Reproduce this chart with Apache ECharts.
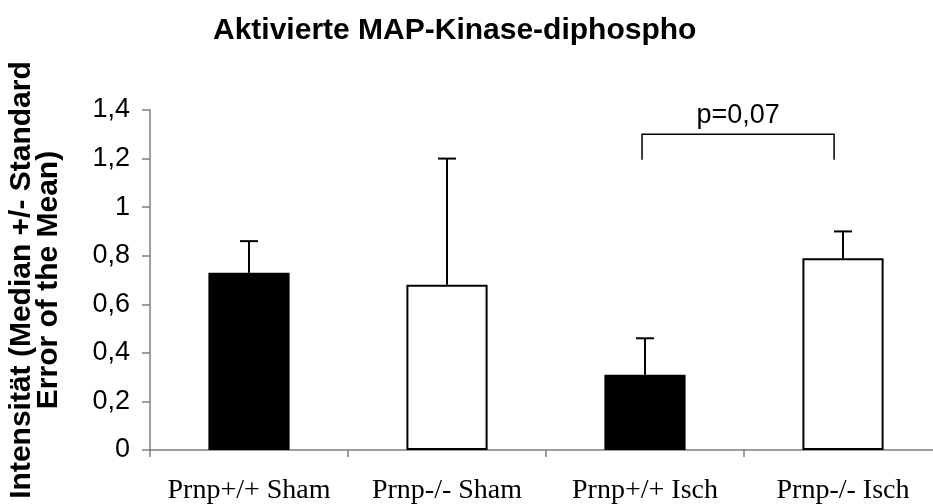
<!DOCTYPE html>
<html>
<head>
<meta charset="utf-8">
<script src="https://cdn.jsdelivr.net/npm/echarts@6/dist/echarts.min.js"></script>
<style>
  html, body { margin: 0; padding: 0; background: #fff; }
  #chart { width: 933px; height: 504px; }
</style>
</head>
<body>
<div id="chart"></div>
<script>
// Groups and measured intensities (median) with the upper end of the SEM bar
const categories = ['Prnp+/+ Sham', 'Prnp-/- Sham', 'Prnp+/+ Isch', 'Prnp-/- Isch'];
const medians = [0.73, 0.68, 0.31, 0.79];
const upperErrors = [0.86, 1.20, 0.46, 0.90];
const barFills = ['#000000', '#ffffff', '#000000', '#ffffff'];
const yTicks = [0, 0.2, 0.4, 0.6, 0.8, 1.0, 1.2, 1.4];

// Significance bracket between the two ischemia groups
const bracketFrom = 2;
const bracketTo = 3;
const bracketTop = 1.30;
const bracketFoot = 1.195;
const bracketLabel = 'p=0,07';

const sans = 'Liberation Sans, Arial, sans-serif';
const serif = 'Liberation Serif, Times New Roman, serif';
const axisGray = '#7f7f7f';

const chart = echarts.init(document.getElementById('chart'));

const barData = medians.map((v, i) => ({
  value: v,
  itemStyle: { color: barFills[i], borderColor: '#000', borderWidth: 2 }
}));

const errorData = medians.map((v, i) => [i, v, upperErrors[i]]);

chart.setOption({
  animation: false,
  backgroundColor: '#fff',
  title: {
    text: 'Aktivierte MAP-Kinase-diphospho',
    left: 213,
    top: 16,
    padding: 0,
    textStyle: { fontFamily: sans, fontSize: 30, fontWeight: 'bold', color: '#000' }
  },
  grid: {
    left: 150, right: -9, top: 110, bottom: 54,
    containLabel: false,
    outerBoundsMode: 'none'
  },
  xAxis: {
    type: 'category',
    data: categories,
    boundaryGap: true,
    axisLine: { lineStyle: { color: axisGray, width: 1.5 } },
    axisTick: { show: true, inside: false, length: 7, lineStyle: { color: axisGray, width: 1.5 } },
    axisLabel: { fontFamily: serif, fontSize: 28, color: '#000', margin: 27, interval: 0 }
  },
  yAxis: {
    type: 'value',
    min: yTicks[0],
    max: yTicks[yTicks.length - 1],
    interval: 0.2,
    name: 'Intensität (Median +/- Standard\nError of the Mean)',
    nameLocation: 'middle',
    nameRotate: 90,
    nameGap: 88,
    nameTextStyle: { fontFamily: sans, fontSize: 30, fontWeight: 'bold', color: '#000', lineHeight: 27 },
    axisLine: { show: true, lineStyle: { color: axisGray, width: 1.5 } },
    axisTick: { show: true, inside: false, length: 8, lineStyle: { color: axisGray, width: 1.5 } },
    splitLine: { show: false },
    axisLabel: {
      fontFamily: sans, fontSize: 27, color: '#000', margin: 20,
      formatter: v => String(Math.round(v * 10) / 10).replace('.', ',')
    }
  },
  series: [
    {
      type: 'bar',
      data: barData,
      barWidth: '41%',
      z: 2
    },
    {
      type: 'custom',
      data: errorData,
      encode: { x: 0, y: [1, 2] },
      z: 3,
      renderItem: (params, api) => {
        const base = api.coord([api.value(0), api.value(1)]);
        const top = api.coord([api.value(0), api.value(2)]);
        const half = 9;
        const style = { stroke: '#000', lineWidth: 2 };
        return {
          type: 'group',
          children: [
            { type: 'line', shape: { x1: base[0], y1: base[1], x2: top[0], y2: top[1] }, style },
            { type: 'line', shape: { x1: top[0] - half, y1: top[1], x2: top[0] + half, y2: top[1] }, style }
          ]
        };
      }
    },
    {
      type: 'custom',
      data: [[bracketFrom, bracketTo, bracketTop, bracketFoot]],
      encode: { x: [0, 1], y: [2, 3] },
      z: 3,
      renderItem: (params, api) => {
        const band = api.size([1, 0])[0];
        const a = api.coord([api.value(0), api.value(2)]);
        const b = api.coord([api.value(1), api.value(2)]);
        const foot = api.coord([api.value(0), api.value(3)])[1];
        const x1 = a[0] - band * 0.015;
        const x2 = b[0] - band * 0.045;
        const y = a[1];
        return {
          type: 'group',
          children: [
            {
              type: 'polyline',
              shape: { points: [[x1, foot], [x1, y], [x2, y], [x2, foot]] },
              style: { stroke: '#000', lineWidth: 1.5, fill: null }
            },
            {
              type: 'text',
              style: {
                text: bracketLabel,
                x: (x1 + x2) / 2,
                y: y - 5,
                align: 'center',
                verticalAlign: 'bottom',
                font: '27px ' + sans,
                fill: '#000'
              }
            }
          ]
        };
      }
    }
  ]
});
</script>
</body>
</html>
